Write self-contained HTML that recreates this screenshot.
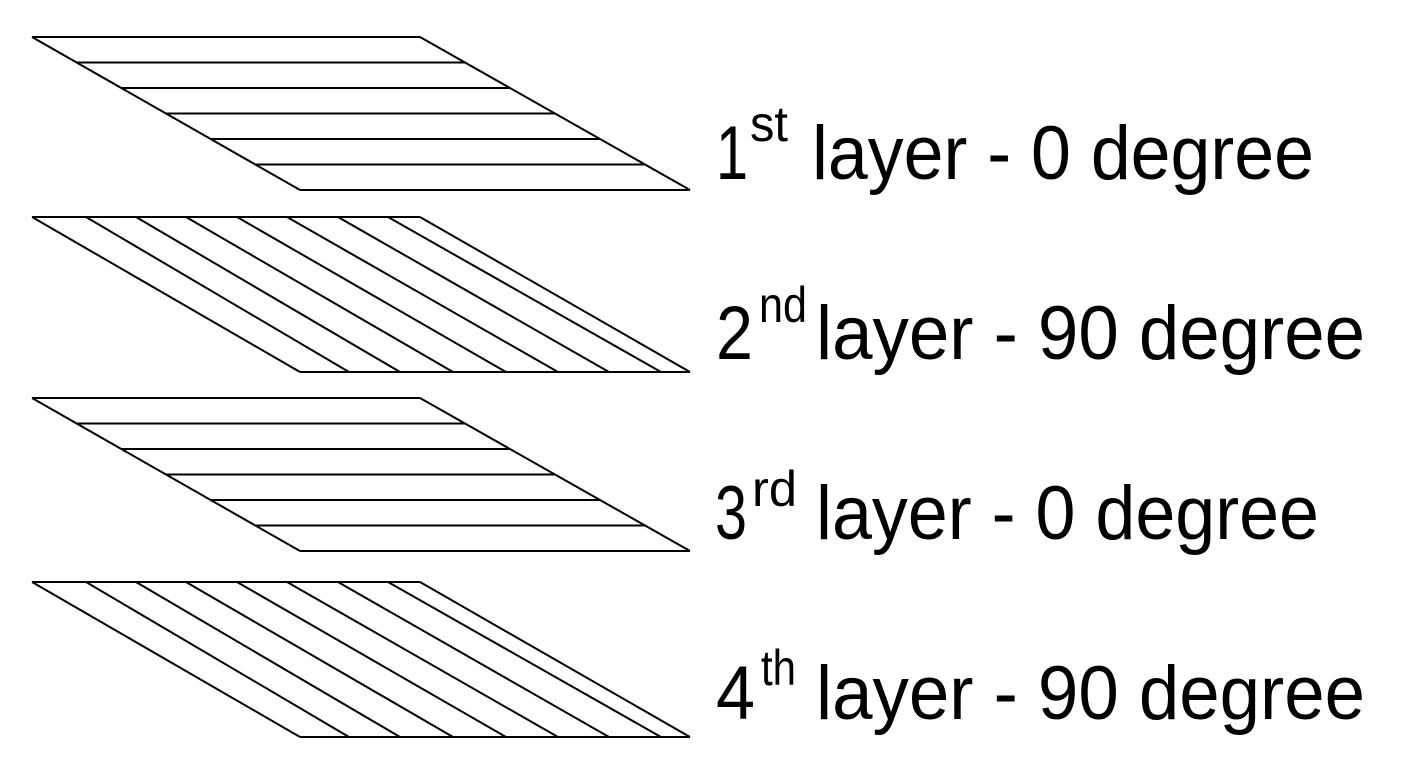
<!DOCTYPE html>
<html><head><style>html,body{margin:0;padding:0;background:#fff;}svg{display:block}</style></head>
<body>
<svg width="1402" height="771" viewBox="0 0 1402 771" xmlns="http://www.w3.org/2000/svg">
<g stroke="#000" stroke-width="2" fill="none">
<g>
<line x1="32" y1="37" x2="420" y2="37"/>
<line x1="32" y1="37" x2="300" y2="190"/>
<line x1="420" y1="37" x2="690" y2="190"/>
<line x1="300" y1="190" x2="690" y2="190"/>
<line x1="76.7" y1="62.5" x2="465" y2="62.5"/>
<line x1="121.3" y1="88" x2="510" y2="88"/>
<line x1="166" y1="113.5" x2="555" y2="113.5"/>
<line x1="210.7" y1="139" x2="600" y2="139"/>
<line x1="255.3" y1="164.5" x2="645" y2="164.5"/>
</g>
<g transform="translate(0,361)">
<line x1="32" y1="37" x2="420" y2="37"/>
<line x1="32" y1="37" x2="300" y2="190"/>
<line x1="420" y1="37" x2="690" y2="190"/>
<line x1="300" y1="190" x2="690" y2="190"/>
<line x1="76.7" y1="62.5" x2="465" y2="62.5"/>
<line x1="121.3" y1="88" x2="510" y2="88"/>
<line x1="166" y1="113.5" x2="555" y2="113.5"/>
<line x1="210.7" y1="139" x2="600" y2="139"/>
<line x1="255.3" y1="164.5" x2="645" y2="164.5"/>
</g>
<g transform="translate(0,217)">
<line x1="32" y1="0" x2="420" y2="0"/>
<line x1="300" y1="155" x2="690" y2="155"/>
<line x1="32" y1="0" x2="300" y2="155"/>
<line x1="86" y1="0" x2="349" y2="155"/>
<line x1="136" y1="0" x2="400" y2="155"/>
<line x1="186" y1="0" x2="453" y2="155"/>
<line x1="237" y1="0" x2="506" y2="155"/>
<line x1="287" y1="0" x2="558" y2="155"/>
<line x1="338" y1="0" x2="609" y2="155"/>
<line x1="388" y1="0" x2="661" y2="155"/>
<line x1="420" y1="0" x2="690" y2="155"/>
</g>
<g transform="translate(0,582)">
<line x1="32" y1="0" x2="420" y2="0"/>
<line x1="300" y1="155" x2="690" y2="155"/>
<line x1="32" y1="0" x2="300" y2="155"/>
<line x1="86" y1="0" x2="349" y2="155"/>
<line x1="136" y1="0" x2="400" y2="155"/>
<line x1="186" y1="0" x2="453" y2="155"/>
<line x1="237" y1="0" x2="506" y2="155"/>
<line x1="287" y1="0" x2="558" y2="155"/>
<line x1="338" y1="0" x2="609" y2="155"/>
<line x1="388" y1="0" x2="661" y2="155"/>
<line x1="420" y1="0" x2="690" y2="155"/>
</g>
</g>
<g font-family="Liberation Sans, Arial, sans-serif" fill="#000">
<text x="716" y="179" font-size="76" textLength="32" lengthAdjust="spacingAndGlyphs">1</text>
<text x="750" y="141" font-size="50" textLength="38" lengthAdjust="spacingAndGlyphs">st</text>
<text x="812" y="179" font-size="76" textLength="502" lengthAdjust="spacingAndGlyphs">layer - 0 degree</text>

<text x="716" y="359" font-size="76" textLength="37" lengthAdjust="spacingAndGlyphs">2</text>
<text x="759" y="322" font-size="50" textLength="48" lengthAdjust="spacingAndGlyphs">nd</text>
<text x="816" y="359" font-size="76" textLength="549" lengthAdjust="spacingAndGlyphs">layer - 90 degree</text>

<text x="715" y="539" font-size="76" textLength="32" lengthAdjust="spacingAndGlyphs">3</text>
<text x="752" y="506" font-size="50" textLength="45" lengthAdjust="spacingAndGlyphs">rd</text>
<text x="816" y="539" font-size="76" textLength="503" lengthAdjust="spacingAndGlyphs">layer - 0 degree</text>

<text x="716" y="719" font-size="76" textLength="39" lengthAdjust="spacingAndGlyphs">4</text>
<text x="761" y="685" font-size="50" textLength="35" lengthAdjust="spacingAndGlyphs">th</text>
<text x="816" y="719" font-size="76" textLength="549" lengthAdjust="spacingAndGlyphs">layer - 90 degree</text>
</g>
</svg>
</body></html>
